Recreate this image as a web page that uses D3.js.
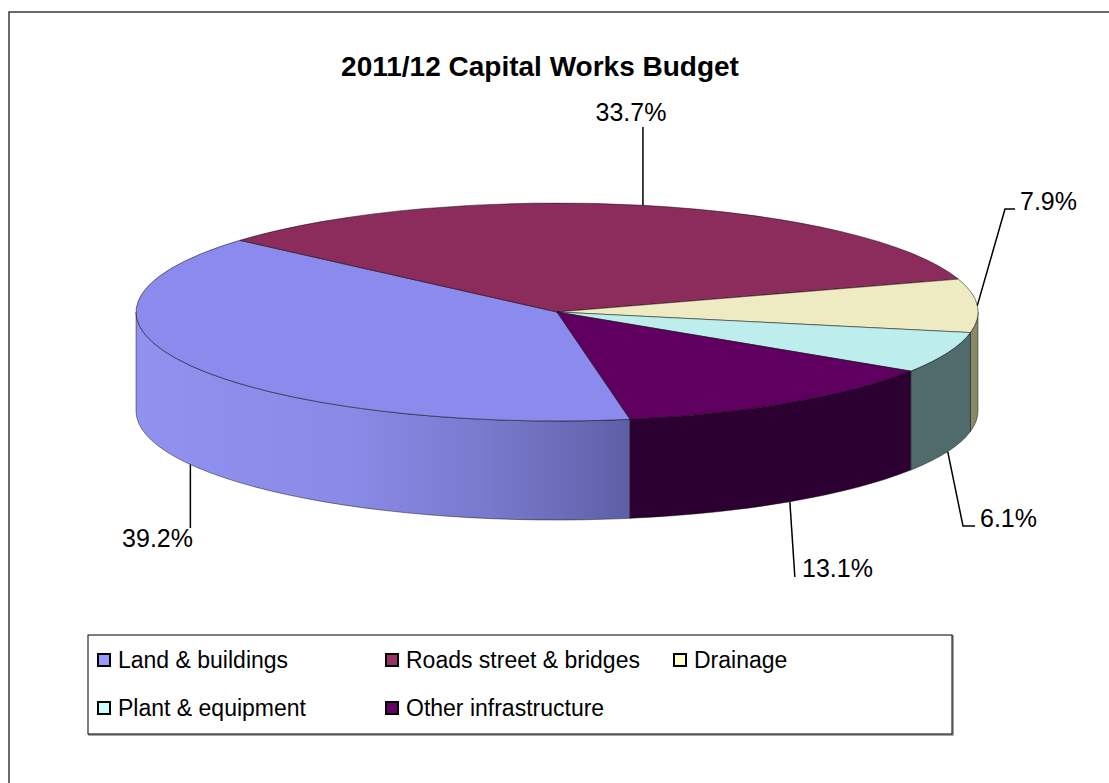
<!DOCTYPE html>
<html>
<head>
<meta charset="utf-8">
<script src="https://cdn.jsdelivr.net/npm/d3@7"></script>
<style>
  html, body { margin: 0; padding: 0; background: #fff; }
  svg { display: block; font-family: "Liberation Sans", Arial, sans-serif; }
</style>
</head>
<body>
<svg id="chart" width="1109" height="783"></svg>
<script>
// Capital works budget 2011/12, share of total (%)
const categories = ["Land & buildings", "Roads street & bridges", "Drainage", "Plant & equipment", "Other infrastructure"];
const shares = [39.2, 33.7, 7.9, 6.1, 13.1];
const title = "2011/12 Capital Works Budget";

// Face colours: top faces and the darker walls of each slice
const topColors  = ["#8b8bee", "#8b2c5c", "#eeebc2", "#bdeded", "#5f0060"];
const sideColors = ["url(#landSide)", "#5a1c3c", "#8a8866", "#4f6b6b", "#2c0030"];
const swatchColors = ["#9999ff", "#993366", "#ffffcc", "#ccffff", "#660066"];

const svg = d3.select("#chart");
const W = 1109, H = 783;

// Ellipse geometry of the tilted pie
const cx = 557, cy = 312, rx = 421, ry = 109, depth = 99;
const rotation = 170 * Math.PI / 180;

const defs = svg.append("defs");
const g1 = defs.append("linearGradient").attr("id", "landSide")
  .attr("gradientUnits", "userSpaceOnUse")
  .attr("x1", cx - rx).attr("x2", 632).attr("y1", 0).attr("y2", 0);
[[0, "#9191ef"], [0.45, "#8989e6"], [0.75, "#7676c8"], [1, "#5e5ea6"]]
  .forEach(([o, c]) => g1.append("stop").attr("offset", o).attr("stop-color", c));

// Outer chart frame
svg.append("rect").attr("x", 10).attr("y", 13).attr("width", W + 20).attr("height", H + 20)
  .attr("fill", "none").attr("stroke", "#9a9a9a").attr("stroke-width", 2);
svg.append("rect").attr("x", 9).attr("y", 12).attr("width", W + 20).attr("height", H + 20)
  .attr("fill", "#fff").attr("stroke", "#3a3a3a").attr("stroke-width", 1.5);

svg.append("text").attr("x", 540).attr("y", 76).attr("text-anchor", "middle")
  .attr("font-size", 28).attr("font-weight", "bold").attr("fill", "#000").text(title);

const pie = d3.pie().sort(null).value(d => d)
  .startAngle(rotation).endAngle(rotation + 2 * Math.PI);
const arcs = pie(shares);

const pt = (a, dz = 0) => [cx + rx * Math.sin(a), cy - ry * Math.cos(a) + dz];

function topPath(a0, a1) {
  const p0 = pt(a0), p1 = pt(a1);
  const large = (a1 - a0) > Math.PI ? 1 : 0;
  return `M${cx},${cy}L${p0}A${rx},${ry} 0 ${large} 1 ${p1}Z`;
}
function sidePath(a0, a1) {
  const p0 = pt(a0), p1 = pt(a1), q0 = pt(a0, depth), q1 = pt(a1, depth);
  return `M${p0}A${rx},${ry} 0 0 1 ${p1}L${q1}A${rx},${ry} 0 0 0 ${q0}Z`;
}

// Walls: only the front half (90°..270°) faces the viewer
const walls = svg.append("g");
arcs.forEach((d, i) => {
  for (let k = 0; k < 2; k++) {
    const lo = Math.max(d.startAngle, Math.PI / 2 + 2 * Math.PI * k);
    const hi = Math.min(d.endAngle, 3 * Math.PI / 2 + 2 * Math.PI * k);
    if (hi > lo) {
      walls.append("path").attr("d", sidePath(lo, hi))
        .attr("fill", sideColors[i])
        .attr("stroke", "rgba(0,0,0,0.55)").attr("stroke-width", 0.8);
    }
  }
});

// Top faces
svg.append("g").selectAll("path").data(arcs).join("path")
  .attr("d", d => topPath(d.startAngle, d.endAngle))
  .attr("fill", (d, i) => topColors[i])
  .attr("stroke", "rgba(0,0,0,0.6)").attr("stroke-width", 0.8)
  .attr("stroke-linejoin", "round");

// Data labels with leader lines; anchors come from each slice's mid-angle
const labelLayout = [
  { x: 193, y: 547, anchor: "end",    bottom: true,  elbow: null },
  { x: 631, y: 121, anchor: "middle", bottom: false, elbow: null },
  { x: 1020, y: 210, anchor: "start", bottom: false, elbow: [1005, 209], end: [1015, 209] },
  { x: 980, y: 527, anchor: "start",  bottom: true,  elbow: [963, 526], end: [975, 526] },
  { x: 802, y: 577, anchor: "start",  bottom: true,  elbow: null }
];
const labels = svg.append("g");
arcs.forEach((d, i) => {
  const mid = (d.startAngle + d.endAngle) / 2;
  const L = labelLayout[i];
  const a = pt(mid, L.bottom ? depth : 0);
  let pts;
  if (i === 0) pts = [a, [a[0], L.y - 19]];
  else if (i === 1) pts = [a, [a[0], L.y + 6]];
  else if (i === 4) pts = [a, [a[0] + 5, L.y]];
  else pts = [a, L.elbow, L.end];
  labels.append("path").attr("d", d3.line()(pts))
    .attr("fill", "none").attr("stroke", "#000").attr("stroke-width", 1.5);
  labels.append("text").attr("x", L.x).attr("y", L.y)
    .attr("text-anchor", L.anchor).attr("font-size", 25).attr("fill", "#000")
    .text(d.data.toFixed(1) + "%");
});

// Legend
const lg = svg.append("g");
lg.append("rect").attr("x", 89).attr("y", 636).attr("width", 864).attr("height", 99)
  .attr("fill", "none").attr("stroke", "#888").attr("stroke-width", 1.5);
lg.append("rect").attr("x", 88).attr("y", 635).attr("width", 864).attr("height", 99)
  .attr("fill", "#fff").attr("stroke", "#000").attr("stroke-width", 1);
const colX = [98, 386, 674];
const rowY = [660, 708];
categories.forEach((c, i) => {
  const x = colX[i % 3], y = rowY[Math.floor(i / 3)];
  lg.append("rect").attr("x", x).attr("y", y - 6).attr("width", 12).attr("height", 12)
    .attr("fill", swatchColors[i]).attr("stroke", "#000").attr("stroke-width", 2);
  lg.append("text").attr("x", x + 20).attr("y", y + 8).attr("font-size", 23)
    .attr("fill", "#000").text(c);
});
</script>
</body>
</html>
